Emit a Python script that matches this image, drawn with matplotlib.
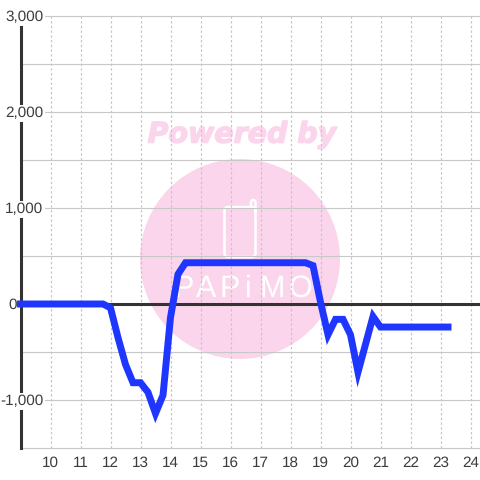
import matplotlib
matplotlib.use("Agg")
import matplotlib.pyplot as plt
from matplotlib.lines import Line2D
from matplotlib.patches import Circle, FancyBboxPatch
import matplotlib.patheffects as pe

hours = [9.0, 9.25, 9.5, 9.75, 10.0, 10.25, 10.5, 10.75, 11.0, 11.25, 11.5, 11.75,
         12.0, 12.25, 12.5, 12.75, 13.0, 13.25, 13.5, 13.75, 14.0, 14.25, 14.5, 14.75,
         15.0, 15.25, 15.5, 15.75, 16.0, 16.25, 16.5, 16.75, 17.0, 17.25, 17.5, 17.75,
         18.0, 18.25, 18.5, 18.75, 19.0, 19.25, 19.5, 19.75, 20.0, 20.25, 20.5, 20.75,
         21.0, 21.25, 21.5, 21.75, 22.0, 22.25, 22.5, 22.75, 23.0, 23.25]
values = [0, 0, 0, 0, 0, 0, 0, 0, 0, 0, 0, 0,
          -40, -350, -630, -820, -820, -920, -1140, -950, -140, 310, 430, 430,
          430, 430, 430, 430, 430, 430, 430, 430, 430, 430, 430, 430,
          430, 430, 430, 400, 20, -320, -160, -160, -320, -710, -420, -130,
          -240, -240, -240, -240, -240, -240, -240, -240, -240, -240]
x_ticks = list(range(10, 25))
y_grid = [-1500, -1000, -500, 0, 500, 1000, 1500, 2000, 2500, 3000]
y_ticks = [-1000, 0, 1000, 2000, 3000]
y_labels = ["-1,000", "0", "1,000", "2,000", "3,000"]
logo_letters = ["P", "A", "P", "i", "M", "O"]
logo_x = [184, 206, 230, 248, 272, 300]

W = 480
pink = "#fbd5ec"
text_col = "#3c3c3c"
plt.rcParams["text.hinting"] = "no_hinting"

fig = plt.figure(figsize=(4.8, 4.8), dpi=100, facecolor="white")
ax = fig.add_axes([20.5 / W, 32 / W, 459.5 / W, 432 / W])
ax.set_zorder(5)
ax.patch.set_alpha(0)
ax.set_xlim(9, 9 + 459.5 / 30)
ax.set_ylim(-1500, 3000)

# watermark sits behind the axes
fig.patches.append(Circle((240 / W, 1 - 259 / W), 100 / W, transform=fig.transFigure, fc=pink, ec="none", zorder=1))
fig.patches.append(FancyBboxPatch((224.5 / W, 1 - 257 / W), 31 / W, 50 / W, boxstyle="round,pad=0,rounding_size=0.008",
                                  transform=fig.transFigure, fc="none", ec="white", lw=1.8, zorder=2))
tab_x = [251, 251, 252.5, 254, 255.5, 255.5]
tab_y = [207, 201.5, 200, 200, 201.5, 212]
fig.add_artist(Line2D([a / W for a in tab_x], [1 - b / W for b in tab_y], color="white", lw=1.8, zorder=2,
                      transform=fig.transFigure))
fig.text(242 / W, 1 - 135 / W, "Powered by", color=pink, fontsize=20.5, fontweight="bold", style="italic",
         family="DejaVu Sans", ha="center", va="center", zorder=2,
         path_effects=[pe.withStroke(linewidth=1, foreground=pink)])
for c, lx in zip(logo_letters, logo_x):
    fig.text(lx / W, 1 - 289 / W, c, color="white", fontsize=22, family=["Liberation Sans Narrow", "Liberation Sans"],
             ha="center", va="center", zorder=2)

for s in ax.spines.values():
    s.set_visible(False)
ax.spines["left"].set_visible(True)
ax.spines["left"].set_linewidth(2.2)
ax.spines["left"].set_color("#333333")
ax.spines["left"].set_zorder(2)

ax.set_yticks(y_grid)
ax.set_xticks(x_ticks)
ax.tick_params(length=0, labelleft=False, labelsize=11, labelcolor=text_col, pad=5.5)
ax.set_xticklabels([str(t) for t in x_ticks], family="Liberation Sans")
ax.grid(axis="y", color="#c8c8c8", lw=0.8)
ax.grid(axis="x", color="#c4c4c4", lw=0.85, ls=(0, (2, 2)))
ax.set_axisbelow(True)
for gl in ax.get_ygridlines():
    gl.set_clip_on(False)
ax.axhline(0, color="#333333", lw=2.2, zorder=2)

for v, lab in zip(y_ticks, y_labels):
    xoff = -4 if v == 0 else 23
    ax.annotate(lab, (0, v), xycoords=("axes fraction", "data"), xytext=(xoff * 0.72, -1), textcoords="offset points",
                ha="right", va="center", fontsize=11, color=text_col, family="Liberation Sans",
                annotation_clip=False, zorder=5,
                bbox=dict(fc="white", ec="none", pad=1.2) if v != 0 else None)

ax.plot(hours, values, color="#1f36ff", lw=5, solid_capstyle="projecting", solid_joinstyle="miter",
        clip_on=False, zorder=4)

fig.savefig("out.png", dpi=100)
